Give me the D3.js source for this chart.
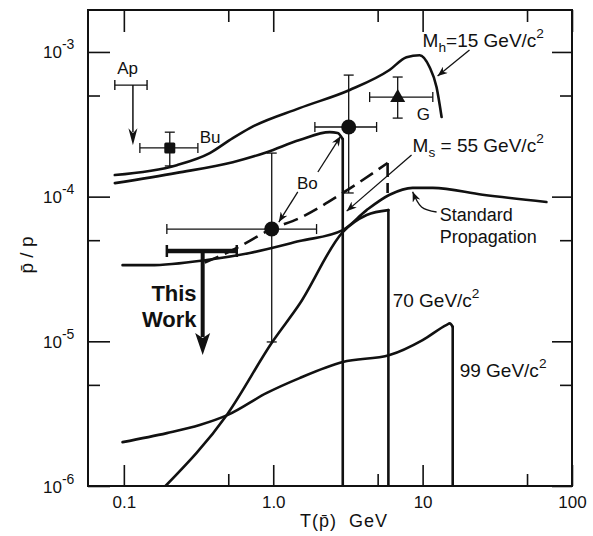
<!DOCTYPE html>
<html>
<head>
<meta charset="utf-8">
<script src="https://cdn.jsdelivr.net/npm/d3@7"></script>
<style>
body { margin: 0; background: #fff; }
svg text { font-family: "Liberation Sans", Arial, sans-serif; fill: #111; }
</style>
</head>
<body>
<div class="chart"></div>
<script>
var width = 593;
var height = 536;

// ticks
var xMajorTicks = [0.1, 1, 10, 100];
var xTickLabels = ['0.1', '1.0', '10', '100'];
var xMinorTicks = [0.5, 5, 50];
var yMajorTicks = [1e-6, 1e-5, 1e-4, 1e-3];
var yTickExponents = ['-6', '-5', '-4', '-3'];
var yMinorTicks = [5e-6, 5e-5, 5e-4];

// model curves, [T(pbar) GeV, pbar/p]
var curveMh15 = [[0.087, 1.41e-4], [0.226, 1.65e-4], [0.376, 2.0e-4], [0.536, 2.54e-4], [0.697, 2.98e-4],
  [1.50, 4.09e-4], [3.25, 5.46e-4], [6.0, 7.5e-4], [7.8, 9.2e-4], [9.55, 9.5e-4], [11.1, 7.9e-4],
  [12.4, 5.7e-4], [13.4, 3.55e-4]];
var curveUpper = [[0.087, 1.24e-4], [0.226, 1.46e-4], [0.536, 1.73e-4], [0.906, 2.03e-4], [1.50, 2.46e-4],
  [2.39, 2.79e-4], [2.70, 2.75e-4], [2.92, 2.5e-4]];
var dropUpper = [[2.92, 2.5e-4], [2.92, 1e-6]];
var curveMs55 = [[0.348, 3.5e-5], [0.536, 4.28e-5], [0.977, 5.97e-5], [1.50, 7.11e-5], [2.92, 1.06e-4], [5.83, 1.71e-4]];
var dropMs55 = [[5.83, 1.71e-4], [5.83, 1.06e-4]];
var curveStandard = [[0.098, 3.36e-5], [0.149, 3.36e-5], [0.359, 3.65e-5], [0.697, 4.08e-5], [1.50, 4.93e-5],
  [2.92, 5.87e-5], [4.22, 8.07e-5], [6.01, 1.03e-4], [8.57, 1.15e-4], [11.7, 1.15e-4], [25.2, 1.03e-4], [67.4, 9.18e-5]];
var curve70 = [[0.19, 1e-6], [0.489, 3.1e-6], [0.993, 1.0e-5], [1.50, 1.81e-5], [2.92, 5.69e-5], [4.22, 7.46e-5], [5.9, 8.07e-5]];
var drop70 = [[5.9, 8.07e-5], [5.9, 1e-6]];
var curve99 = [[0.098, 2.01e-6], [0.194, 2.32e-6], [0.322, 2.64e-6], [0.497, 3.10e-6], [0.906, 4.40e-6],
  [1.50, 5.57e-6], [2.92, 7.19e-6], [6.01, 8.04e-6], [10.0, 1.02e-5], [14.5, 1.30e-5], [15.2, 1.33e-5], [15.9, 1.26e-5]];
var drop99 = [[15.9, 1.26e-5], [15.9, 1e-6]];

// measurements with error bars
var pointShape = ['square', 'circle', 'circle', 'triangle'];
var pointT = [0.203, 0.977, 3.20, 6.81];
var pointTLo = [0.128, 0.194, 1.90, 4.42];
var pointTHi = [0.313, 1.95, 4.92, 11.7];
var pointV = [2.17e-4, 5.97e-5, 3.03e-4, 4.88e-4];
var pointVLo = [1.63e-4, 9.9e-6, 1.06e-4, 3.49e-4];
var pointVHi = [2.79e-4, 2.0e-4, 6.92e-4, 6.71e-4];

// upper limits (Ap, This Work)
var limitT = [0.115, 0.337];
var limitTLo = [0.087, 0.194];
var limitTHi = [0.143, 0.570];
var limitV = [5.9e-4, 4.21e-5];
var limitTip = [2.27e-4, 8.04e-6];

var svg = d3.select('.chart')
  .append('svg')
  .attr('width', width)
  .attr('height', height);

var x = d3.scaleLog().domain([Math.pow(10, -1.24), 100]).range([88, 572]);
var y = d3.scaleLog().domain([1e-6, Math.pow(10, -2.71)]).range([486, 10]);

svg.append('clipPath').attr('id', 'plot')
  .append('rect').attr('x', 88).attr('y', 10).attr('width', 484).attr('height', 476);

var defs = svg.append('defs');
defs.append('marker')
  .attr('id', 'head')
  .attr('markerUnits', 'userSpaceOnUse')
  .attr('viewBox', '0 0 10 8')
  .attr('refX', 10).attr('refY', 4)
  .attr('markerWidth', 10).attr('markerHeight', 8)
  .attr('orient', 'auto')
  .append('path').attr('d', 'M0,0 L10,4 L0,8 L3,4 Z').attr('fill', '#111');

// axes
function axisStyle(g) {
  g.select('.domain').remove();
  g.selectAll('.tick line').attr('stroke', '#111').attr('stroke-width', 1.6);
}

svg.append('g').attr('transform', 'translate(0,486)')
  .call(d3.axisBottom(x).tickValues(xMajorTicks).tickSize(-21).tickPadding(10)
    .tickFormat(function(d, i) { return xTickLabels[i]; }))
  .call(axisStyle)
  .call(function(g) {
    g.selectAll('text').attr('font-size', 17).attr('fill', '#111')
      .style('font-family', '"Liberation Sans", Arial, sans-serif');
  });
svg.append('g').attr('transform', 'translate(0,486)')
  .call(d3.axisBottom(x).tickValues(xMinorTicks).tickSize(-12).tickFormat(''))
  .call(axisStyle);
svg.append('g').attr('transform', 'translate(0,10)')
  .call(d3.axisTop(x).tickValues(xMajorTicks).tickSize(-22).tickFormat(''))
  .call(axisStyle);
svg.append('g').attr('transform', 'translate(0,10)')
  .call(d3.axisTop(x).tickValues(xMinorTicks).tickSize(-12).tickFormat(''))
  .call(axisStyle);

svg.append('g').attr('transform', 'translate(88,0)')
  .call(d3.axisLeft(y).tickValues(yMajorTicks).tickSize(-22).tickFormat(''))
  .call(axisStyle)
  .call(function(g) {
    var t = g.selectAll('.tick').append('text')
      .attr('x', -45).attr('y', 6)
      .attr('text-anchor', 'start')
      .attr('font-size', 17);
    t.append('tspan').text('10');
    t.append('tspan').attr('dy', -9).attr('font-size', 14)
      .text(function(d, i) { return yTickExponents[i]; });
  });
svg.append('g').attr('transform', 'translate(88,0)')
  .call(d3.axisLeft(y).tickValues(yMinorTicks).tickSize(-12).tickFormat(''))
  .call(axisStyle);
svg.append('g').attr('transform', 'translate(572,0)')
  .call(d3.axisRight(y).tickValues(yMajorTicks).tickSize(-20).tickFormat(''))
  .call(axisStyle);
svg.append('g').attr('transform', 'translate(572,0)')
  .call(d3.axisRight(y).tickValues(yMinorTicks).tickSize(-12).tickFormat(''))
  .call(axisStyle);

svg.append('rect')
  .attr('x', 88).attr('y', 10).attr('width', 484).attr('height', 476)
  .attr('fill', 'none').attr('stroke', '#111').attr('stroke-width', 2);

// axis titles
svg.append('text')
  .attr('x', 344).attr('y', 527)
  .attr('text-anchor', 'middle')
  .attr('font-size', 18)
  .attr('letter-spacing', 1)
  .style('white-space', 'pre')
  .text('T(p\u0304)  GeV');

svg.append('text')
  .attr('transform', 'translate(33,255) rotate(-90)')
  .attr('text-anchor', 'middle')
  .attr('font-size', 19)
  .text('p\u0304 / p');

// curves
var smooth = d3.line()
  .x(function(d) { return x(d[0]); })
  .y(function(d) { return y(d[1]); })
  .curve(d3.curveMonotoneX);
var straight = d3.line()
  .x(function(d) { return x(d[0]); })
  .y(function(d) { return y(d[1]); });

var curves = svg.append('g').attr('clip-path', 'url(#plot)')
  .attr('fill', 'none').attr('stroke', '#111')
  .attr('stroke-width', 2.6).attr('stroke-linecap', 'round').attr('stroke-linejoin', 'round');

[curveMh15, curveUpper, curveStandard, curve70, curve99].forEach(function(c) {
  curves.append('path').attr('d', smooth(c));
});
[dropUpper, drop70, drop99].forEach(function(c) {
  curves.append('path').attr('d', straight(c));
});
curves.append('path').attr('d', smooth(curveMs55)).attr('stroke-dasharray', '15,7').attr('stroke-linecap', 'butt');
curves.append('path').attr('d', straight(dropMs55)).attr('stroke-dasharray', '14,6').attr('stroke-linecap', 'butt');

// error bars
var bars = svg.append('g').attr('stroke', '#111').attr('stroke-width', 1.3).attr('fill', 'none');
pointT.forEach(function(t, i) {
  var cx = x(t), cy = y(pointV[i]);
  var x0 = x(pointTLo[i]), x1 = x(pointTHi[i]);
  var y0 = y(pointVLo[i]), y1 = y(pointVHi[i]);
  bars.append('line').attr('x1', x0).attr('x2', x1).attr('y1', cy).attr('y2', cy);
  bars.append('line').attr('x1', x0).attr('x2', x0).attr('y1', cy - 5).attr('y2', cy + 5);
  bars.append('line').attr('x1', x1).attr('x2', x1).attr('y1', cy - 5).attr('y2', cy + 5);
  bars.append('line').attr('x1', cx).attr('x2', cx).attr('y1', y0).attr('y2', y1);
  bars.append('line').attr('x1', cx - 5).attr('x2', cx + 5).attr('y1', y0).attr('y2', y0);
  bars.append('line').attr('x1', cx - 5).attr('x2', cx + 5).attr('y1', y1).attr('y2', y1);
});

var marks = svg.append('g').attr('fill', '#111');
pointT.forEach(function(t, i) {
  var cx = x(t), cy = y(pointV[i]);
  if (pointShape[i] == 'square') {
    marks.append('rect').attr('x', cx - 5.5).attr('y', cy - 5.5).attr('width', 11).attr('height', 11).attr('rx', 1.5);
  } else if (pointShape[i] == 'circle') {
    marks.append('circle').attr('cx', cx).attr('cy', cy).attr('r', 7.5);
  } else {
    marks.append('path').attr('d', 'M' + cx + ',' + (cy - 8) + 'L' + (cx + 7.5) + ',' + (cy + 5) + 'L' + (cx - 7.5) + ',' + (cy + 5) + 'Z');
  }
});

// upper limits: first thin (Ap), second heavy (This Work)
limitT.forEach(function(t, i) {
  var heavy = i == 1;
  var cx = x(t), cy = y(limitV[i]), tip = y(limitTip[i]);
  var x0 = x(limitTLo[i]), x1 = x(limitTHi[i]);
  var sw = heavy ? 4.5 : 1.4, capH = heavy ? 6 : 5, headW = heavy ? 7.5 : 4.5, headL = heavy ? 22 : 17;
  var g = svg.append('g').attr('stroke', '#111').attr('fill', '#111');
  g.append('line').attr('x1', x0).attr('x2', x1).attr('y1', cy).attr('y2', cy).attr('stroke-width', sw);
  g.append('line').attr('x1', x0).attr('x2', x0).attr('y1', cy - capH).attr('y2', cy + capH).attr('stroke-width', heavy ? 2.5 : 1.4);
  g.append('line').attr('x1', x1).attr('x2', x1).attr('y1', cy - capH).attr('y2', cy + capH).attr('stroke-width', heavy ? 2.5 : 1.4);
  g.append('line').attr('x1', cx).attr('x2', cx).attr('y1', cy).attr('y2', tip - headL + 4).attr('stroke-width', heavy ? 4 : 1.5);
  g.append('path').attr('stroke', 'none')
    .attr('d', 'M' + cx + ',' + tip + 'L' + (cx - headW) + ',' + (tip - headL) + 'L' + cx + ',' + (tip - headL + 5) +
      'L' + (cx + headW) + ',' + (tip - headL) + 'Z');
});

// annotations
var pointers = [
  [[20.6, 1.03e-3], [12.6, 6.81e-4]],
  [[8.43, 1.94e-4], [3.10, 7.94e-5]],
  [[1.99, 1.48e-4], [2.83, 2.62e-4]],
  [[1.46, 1.08e-4], [1.09, 6.67e-5]],
  [[12.4, 7.83e-5], [9.84, 8.47e-5], [8.57, 1.08e-4]]
];
var pointerLine = d3.line()
  .x(function(d) { return x(d[0]); })
  .y(function(d) { return y(d[1]); })
  .curve(d3.curveNatural);
pointers.forEach(function(p) {
  svg.append('path').attr('d', pointerLine(p))
    .attr('fill', 'none').attr('stroke', '#111').attr('stroke-width', 1.3)
    .attr('marker-end', 'url(#head)');
});

// [parts, T, value, size, anchor]
var labels = [
  [[['Ap', '']], 0.106, 7.03e-4, 17, 'middle'],
  [[['Bu', '']], 0.322, 2.34e-4, 17, 'start'],
  [[['Bo', '']], 1.44, 1.13e-4, 17, 'start'],
  [[['G', '']], 9.12, 3.38e-4, 17, 'start'],
  [[['M', ''], ['h', 'sub'], ['=15 GeV/c', ''], ['2', 'sup']], 10.0, 1.08e-3, 19, 'start'],
  [[['M', ''], ['s', 'sub'], [' = 55 GeV/c', ''], ['2', 'sup']], 8.57, 2.03e-4, 19, 'start'],
  [[['Standard', '']], 13.0, 6.77e-5, 18, 'start'],
  [[['Propagation', '']], 13.0, 4.78e-5, 18, 'start'],
  [[['70 GeV/c', ''], ['2', 'sup']], 6.30, 1.73e-5, 19, 'start'],
  [[['99 GeV/c', ''], ['2', 'sup']], 17.7, 5.66e-6, 19, 'start']
];
labels.forEach(function(l) {
  var t = svg.append('text')
    .attr('x', x(l[1])).attr('y', y(l[2]))
    .attr('font-size', l[3])
    .attr('text-anchor', l[4]);
  var shift = 0;
  l[0].forEach(function(p) {
    var s = t.append('tspan').text(p[0]);
    var target = p[1] == 'sub' ? 5 : (p[1] == 'sup' ? -9 : 0);
    if (p[1]) s.attr('font-size', l[3] * 0.72);
    if (target != shift) s.attr('dy', target - shift);
    shift = target;
  });
});

svg.append('g').attr('font-size', 22).attr('font-weight', 'bold').attr('text-anchor', 'end')
  .selectAll('text')
  .data([['This', 1.90e-5], ['Work', 1.26e-5]])
  .enter().append('text')
  .attr('x', x(0.307))
  .attr('y', function(d) { return y(d[1]); })
  .text(function(d) { return d[0]; });
</script>
</body>
</html>
